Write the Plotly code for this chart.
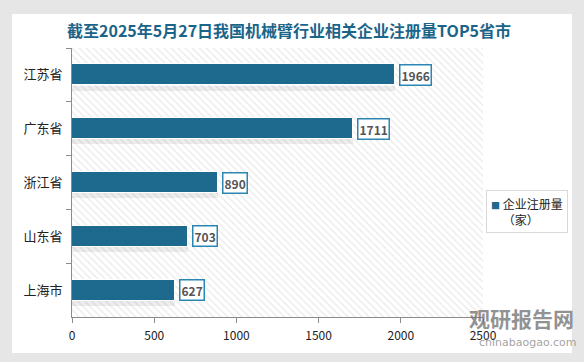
import plotly.graph_objects as go

categories = ["江苏省", "广东省", "浙江省", "山东省", "上海市"]
values = [1966, 1711, 890, 703, 627]
series_name = "企业注册量（家）"
legend_line1 = "企业注册量"
legend_line2 = "（家）"
title_text = "截至2025年5月27日我国机械臂行业相关企业注册量TOP5省市"
x_ticks = [0, 500, 1000, 1500, 2000, 2500]
AXIS_MAX = 2500

BAR = "#1d6a8e"
FONT = "Noto Sans CJK SC"
OUTER = "#e6e6e6"

W, H = 584, 362
# plot area and card, in pixels
PL, PR, PT, PB = 72, 483, 48, 317
CL, CR, CT, CB = 12, 572, 14, 353

def fx(px):
    return px / W

def fy(py):
    return 1 - py / H

fig = go.Figure()

# card subplot (x/y) -> white plot background forms the card
fig.add_trace(go.Scatter(x=[], y=[], xaxis="x", yaxis="y", showlegend=False, hoverinfo="skip"))

# hatched plot background
fig.add_trace(go.Bar(
    y=categories, x=[AXIS_MAX] * len(categories), orientation="h", width=1,
    xaxis="x2", yaxis="y2",
    marker=dict(color="white", line=dict(width=0),
                pattern=dict(shape="\\", fgcolor="#d4d4d4", bgcolor="white", size=5, solidity=0.25)),
    showlegend=False, hoverinfo="skip",
))

# soft shadow under bars
fig.add_trace(go.Bar(
    y=categories, x=values, orientation="h", width=0.09, offset=0.2,
    xaxis="x2", yaxis="y2",
    marker=dict(color="rgba(0,0,0,0.07)", line=dict(width=0)),
    showlegend=False, hoverinfo="skip",
))

fig.add_trace(go.Bar(
    y=categories, x=values, orientation="h", width=0.39,
    xaxis="x2", yaxis="y2", name=series_name, showlegend=False,
    marker=dict(color=BAR, line=dict(color="white", width=1)),
))

for c, v in zip(categories, values):
    fig.add_annotation(
        x=v, y=c, xref="x2", yref="y2", text=f"<b>{v}</b>", showarrow=False,
        xanchor="left", xshift=4,
        font=dict(family=FONT, size=12, color="#555555"),
        bgcolor="white", bordercolor="#2b86b3", borderwidth=1.5, borderpad=1,
    )

fig.add_annotation(
    xref="paper", yref="paper", x=fx(289), y=fy(30), text=f"<b>{title_text}</b>",
    showarrow=False, xanchor="center", yanchor="middle",
    font=dict(family=FONT, size=16, color="#1b6489"),
)

# legend box (manual)
sq = f"<span style='color:{BAR};font-size:9px'>■</span> "
sq_blank = "<span style='color:white;font-size:9px'>■</span> "
fig.add_annotation(
    xref="paper", yref="paper", x=fx(486), y=fy(190), xanchor="left", yanchor="top",
    text=f"{sq}{legend_line1}<br>{sq_blank}{legend_line2}", align="left", showarrow=False,
    font=dict(family=FONT, size=12, color="#222222"),
    bgcolor="white", bordercolor="#d9d9d9", borderwidth=1, borderpad=4,
)

# watermark
fig.add_annotation(
    xref="paper", yref="paper", x=fx(521), y=fy(318), text="<b>观研报告网</b>",
    showarrow=False, xanchor="center", yanchor="middle",
    font=dict(family=FONT, size=21, color="rgba(110,110,110,0.75)"),
)
fig.add_annotation(
    xref="paper", yref="paper", x=fx(528), y=fy(342), text="chinabaogao.com",
    showarrow=False, xanchor="center", yanchor="middle",
    font=dict(family="DejaVu Sans", size=11, color="rgba(130,130,130,0.75)"),
)

fig.update_layout(
    width=W, height=H,
    margin=dict(l=0, r=0, t=0, b=0, pad=0, autoexpand=False),
    paper_bgcolor=OUTER, plot_bgcolor="white",
    barmode="overlay", bargap=0, showlegend=False,
    font=dict(family=FONT, size=12, color="#222222"),
    xaxis=dict(domain=[fx(CL), fx(CR)], range=[0, 1], visible=False, fixedrange=True, anchor="y"),
    yaxis=dict(domain=[fy(CB), fy(CT)], range=[0, 1], visible=False, fixedrange=True, anchor="x"),
    xaxis2=dict(domain=[fx(PL), fx(PR)], anchor="y2",
                range=[0, AXIS_MAX], tickvals=x_ticks, showgrid=False, zeroline=False,
                showline=True, linecolor="#8c8c8c", linewidth=1,
                ticks="outside", ticklen=5, tickcolor="#8c8c8c", ticklabelstandoff=3,
                tickfont=dict(family=FONT, size=12, color="#222222")),
    yaxis2=dict(domain=[fy(PB), fy(PT)], anchor="x2",
                autorange="reversed", showgrid=False, zeroline=False,
                showline=True, linecolor="#8c8c8c", linewidth=1,
                ticks="outside", ticklen=5, tickcolor="#8c8c8c", tickson="boundaries",
                tickfont=dict(family=FONT, size=13, color="#222222"), ticksuffix="  "),
)

fig.write_html("out.html", config={"displayModeBar": False},
               post_script="document.body.style.margin='0';document.body.style.padding='0';")
